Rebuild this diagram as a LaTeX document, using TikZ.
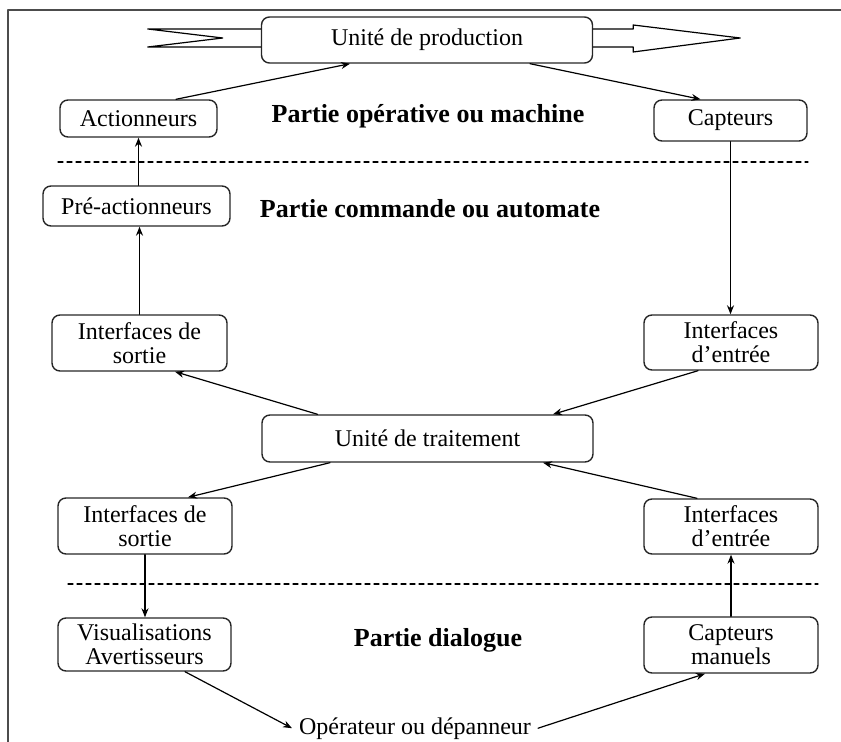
\documentclass[tikz,border=0pt]{standalone}
\usepackage{fontspec}
\setmainfont{Liberation Serif}
\usetikzlibrary{arrows.meta}
\begin{document}
\begin{tikzpicture}[x=0.5pt,y=-0.5pt, font=\fontsize{12}{12}\selectfont, line join=round, line cap=round,>={Stealth[length=4.5pt,width=3.5pt]},
	box/.style={draw=black!85, line width=0.7pt, rounded corners=4pt, align=center, inner sep=0pt},
	titre/.style={font=\fontsize{13}{15}\selectfont\bfseries},
	fl/.style={->, line width=0.6pt},
	sep/.style={dash pattern=on 2.5pt off 2pt, line width=0.6pt}]
	\useasboundingbox (0,0) rectangle (841,742);
	\draw[black!70, line width=0.9pt] (8,742)--(8,10)--(841,10);
	% partie operative
	\node[box, minimum width=165.5pt, minimum height=23pt] (prod) at (427,40) {Unité de production};
	\node[box, minimum width=78.5pt, minimum height=18.5pt] (act) at (138.5,118.5) {Actionneurs};
	\node[box, minimum width=76.5pt, minimum height=20.5pt] (capt) at (730.5,120.5) {Capteurs};
	\node[titre] (t1) at (428,116) {Partie opérative ou machine};
	\draw[line width=0.6pt] ([yshift=5.5pt]prod.west) -- ++(-113,0) -- ++(75,9) -- ++(-75,9) -- ++(113,0);
	\draw[line width=0.6pt] ([yshift=5.5pt]prod.east) -- ++(40,0) -- ++(0,-4) -- ++(107,13) -- ++(-107,14) -- ++(0,-5) -- ++(-40,0);
	\draw[sep] (58,162) -- (808,162);
	% partie commande
	\node[box, minimum width=93.5pt, minimum height=20pt] (preact) at (136.5,206) {Pré-actionneurs};
	\node[titre] (t2) at (430,209) {Partie commande ou automate};
	\node[box, minimum width=87.5pt, minimum height=28pt] (isortA) at (139.5,343) {Interfaces de\\ sortie};
	\node[box, minimum width=87pt, minimum height=27.5pt] (ientA) at (731,342.5) {Interfaces\\ d’entrée};
	\node[box, minimum width=165.5pt, minimum height=23.5pt] (trait) at (427.5,438.5) {Unité de traitement};
	\node[box, minimum width=87pt, minimum height=28pt] (isortB) at (145,526) {Interfaces de\\ sortie};
	\node[box, minimum width=87pt, minimum height=27.5pt] (ientB) at (731,526.5) {Interfaces\\ d’entrée};
	\draw[sep] (68,584) -- (818,584);
	% partie dialogue
	\node[box, minimum width=86.5pt, minimum height=26.5pt] (visu) at (144.5,644.5) {Visualisations\\ Avertisseurs};
	\node[box, minimum width=87pt, minimum height=28pt] (captm) at (731,645) {Capteurs\\ manuels};
	\node[titre] (t3) at (438,640) {Partie dialogue};
	\node[anchor=base] (oper) at (415,734) {Opérateur ou dépanneur};
	% liaisons
	\draw[fl] ([xshift=18.75pt]act.north) -- ([xshift=-38.5pt]prod.south);
	\draw[fl] ([xshift=51.5pt]prod.south) -- ([xshift=-15pt]capt.north);
	\draw[fl] (act.south |- preact.north) -- (act.south);
	\draw[fl] (isortA.north) -- (isortA.north |- preact.south);
	\draw[fl] (capt.south) -- (capt.south |- ientA.north);
	\draw[fl] ([xshift=-55pt]trait.north) -- ([xshift=17.75pt]isortA.south);
	\draw[fl] ([xshift=-16.5pt]ientA.south) -- ([xshift=62.75pt]trait.north);
	\draw[fl] ([xshift=-48.75pt]trait.south) -- ([xshift=21.5pt]isortB.north);
	\draw[fl] ([xshift=-17pt]ientB.north) -- ([xshift=57.75pt]trait.south);
	\draw[fl] (isortB.south) -- (isortB.south |- visu.north);
	\draw[fl] (captm.north) -- (captm.north |- ientB.south);
	\draw[fl] ([xshift=20.25pt]visu.south) -- (oper.west);
	\draw[fl] (oper.east) -- ([xshift=-13pt]captm.south);
\end{tikzpicture}
\end{document}
